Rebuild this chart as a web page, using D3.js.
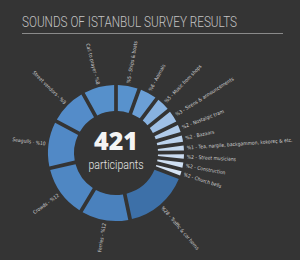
<!DOCTYPE html>
<html>
<head>
<meta charset="utf-8">
<script src="https://cdn.jsdelivr.net/npm/d3@7"></script>
<style>
  body { margin: 0; background: #343434; }
  svg { display: block; }
</style>
</head>
<body>
<div id="chart"></div>
<script>
// categories clockwise, starting at 12 o'clock
var sounds = ["Ships & boats", "Animals", "Music from shops", "Sirens & announcements",
  "Nostalgic tram", "Bazaars", "Tea, nargile, backgammon, kokoreç & etc.", "Street musicians",
  "Construction", "Church bells", "Traffic & car horns", "Ferries", "Crowds", "Seagulls",
  "Street vendors", "Call to prayer"];
// percent printed in each label
var percents = [5, 6, 5, 3, 2, 2, 1, 2, 2, 2, 28, 12, 12, 10, 9, 8];
// share of the ring each segment takes in the picture (degrees)
var shares = [20, 17, 14, 13, 9.5, 8.5, 7.5, 7, 7.5, 7, 57, 43, 46, 41, 33, 29];
var participants = 421;

var W = 300, H = 260;
var cx = 116, cy = 153, rOuter = 68, rInner = 42;

var svg = d3.select("#chart").append("svg")
    .attr("width", W)
    .attr("height", H);

svg.append("rect").attr("width", W).attr("height", H).attr("fill", "#343434");

// title + rule
svg.append("text")
    .attr("x", 22).attr("y", 27)
    .attr("font-family", "Roboto, sans-serif")
    .attr("font-weight", 300)
    .attr("font-size", 14)
    .attr("textLength", 215)
    .attr("lengthAdjust", "spacingAndGlyphs")
    .attr("fill", "#c4c4c4")
    .text("SOUNDS OF ISTANBUL SURVEY RESULTS");

svg.append("line")
    .attr("x1", 22).attr("x2", 283)
    .attr("y1", 33.5).attr("y2", 33.5)
    .attr("stroke", "#8a8a8a").attr("stroke-width", 1);

var data = sounds.map(function (s, i) {
    return { name: s, pct: percents[i], share: shares[i] };
});

var color = d3.scaleOrdinal()
    .domain(sounds)
    .range(["#5892cd", "#6b9fd6", "#88b2e0", "#9fc0e6", "#b0cbea", "#bcd3ee", "#c5d9f0",
        "#cbdcf1", "#cfdff2", "#d5e3f4", "#3d70a8", "#4a81bd", "#4f87c3", "#5189c6",
        "#548cc9", "#5690cb"]);

var pie = d3.pie()
    .value(function (d) { return d.share; })
    .sort(null)
    .startAngle(0)
    .endAngle(2 * Math.PI);

var arc = d3.arc()
    .innerRadius(rInner)
    .outerRadius(rOuter)
    .padAngle(0.055)
    .padRadius(rOuter);

var g = svg.append("g")
    .attr("transform", "translate(" + cx + "," + cy + ")");

var arcs = pie(data);

g.selectAll("path")
    .data(arcs)
    .enter().append("path")
    .attr("d", arc)
    .attr("fill", function (d) { return color(d.data.name); });

function mid(d) { return (d.startAngle + d.endAngle) / 2 * 180 / Math.PI; }

// radial labels
g.selectAll("text.lab")
    .data(arcs)
    .enter().append("text")
    .attr("class", "lab")
    .attr("font-family", "'Liberation Sans Narrow', 'DejaVu Sans Condensed', sans-serif")
    .attr("font-size", 5)
    .attr("fill", "#cfcfcf")
    .attr("dy", "0.35em")
    .attr("transform", function (d) {
        var a = mid(d);
        var t = "rotate(" + (a - 90) + ") translate(" + (rOuter + 3) + ",0)";
        return a > 180 ? t + " rotate(180)" : t;
    })
    .attr("text-anchor", function (d) { return mid(d) > 180 ? "end" : "start"; })
    .text(function (d) {
        return mid(d) > 180 ? d.data.name + " - %" + d.data.pct : "%" + d.data.pct + " - " + d.data.name;
    });

// centre
g.append("text")
    .attr("y", -3)
    .attr("text-anchor", "middle")
    .attr("font-family", "'Open Sans', sans-serif")
    .attr("font-weight", 800)
    .attr("font-size", 25)
    .attr("fill", "#f4f4f4")
    .text(participants);

g.append("text")
    .attr("y", 16)
    .attr("text-anchor", "middle")
    .attr("font-family", "Roboto, sans-serif")
    .attr("font-weight", 300)
    .attr("font-size", 12)
    .attr("textLength", 55)
    .attr("lengthAdjust", "spacingAndGlyphs")
    .attr("fill", "#e6e6e6")
    .text("participants");
</script>
</body>
</html>
